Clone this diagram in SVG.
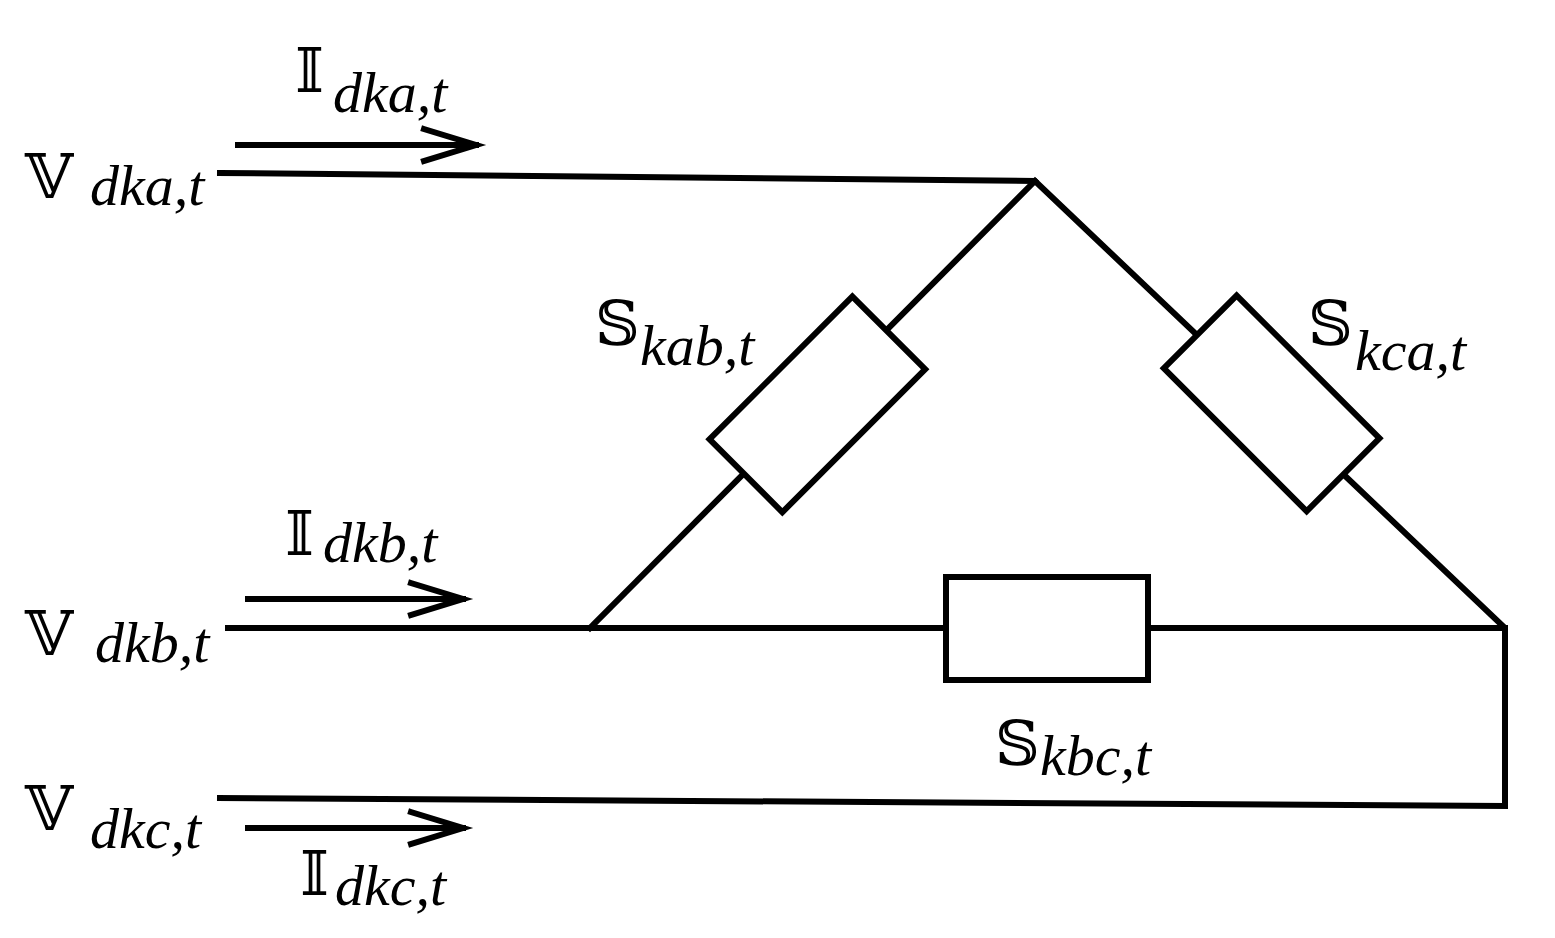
<svg xmlns="http://www.w3.org/2000/svg" width="1555" height="938" viewBox="0 0 1555 938">
<style>
.w{stroke:#000;stroke-width:6;fill:none;stroke-linecap:square}
.r{stroke:#000;stroke-width:6;fill:#fff}
.m{font-family:"DejaVu Serif","DejaVu Sans",serif;font-size:62px}
.s{font-family:"Liberation Serif",serif;font-style:italic;font-size:58px}
</style>
<g id="connectors">
<path class="w" d="M220 173 L1035 181 L1505 628 L1505 806 L220 798"/>
<path class="w" d="M1035 181 L590 628"/>
<path class="w" d="M228 628 L1505 628"/>
<path class="w" d="M238 145 H476 M424 129 L476 145 L424 161"/>
<path class="w" d="M248 599 H463 M411 583 L463 599 L411 615"/>
<path class="w" d="M248 828 H463 M411 812 L463 828 L411 844"/>
</g>
<g id="Sab"><rect class="r" x="-101" y="-51" width="202" height="103" transform="translate(817,404) rotate(-45)"/></g>
<g id="Sca"><rect class="r" x="-101" y="-51" width="202" height="103" transform="translate(1272,403) rotate(45)"/></g>
<g id="Sbc"><rect class="r" x="946" y="577" width="202" height="103"/></g>
<g id="labels">
<text class="m" x="25" y="198">𝕍</text><text class="s" x="90" y="205">dka,t</text>
<text class="m" x="295" y="92">𝕀</text><text class="s" x="333" y="112">dka,t</text>
<text class="m" x="595" y="345">𝕊</text><text class="s" x="640" y="365">kab,t</text>
<text class="m" x="1308" y="345">𝕊</text><text class="s" x="1355" y="370">kca,t</text>
<text class="m" x="285" y="555">𝕀</text><text class="s" x="323" y="562">dkb,t</text>
<text class="m" x="25" y="655">𝕍</text><text class="s" x="95" y="662">dkb,t</text>
<text class="m" x="995" y="765">𝕊</text><text class="s" x="1040" y="775">kbc,t</text>
<text class="m" x="25" y="830">𝕍</text><text class="s" x="90" y="848">dkc,t</text>
<text class="m" x="300" y="895">𝕀</text><text class="s" x="335" y="905">dkc,t</text>
</g>
</svg>
